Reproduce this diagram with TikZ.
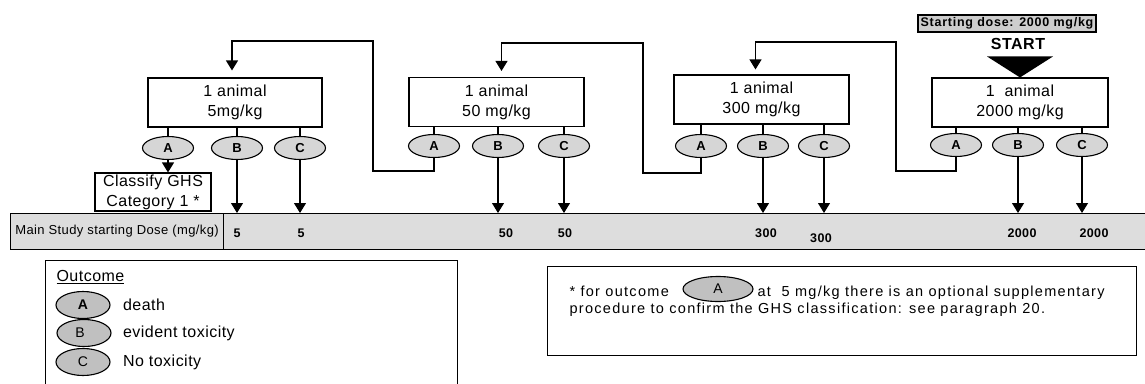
\documentclass[tikz,border=0pt]{standalone}
\usepackage{fontspec}
\setmainfont{Liberation Sans}
\newfontfamily\boxfont{Liberation Sans}[LetterSpace=3]
\newfontfamily\startfont{Liberation Sans}[LetterSpace=6]
\newfontfamily\notefont{Liberation Sans}[LetterSpace=9]
\usetikzlibrary{positioning,shapes.geometric,arrows.meta}
\definecolor{barfill}{RGB}{221,221,221}
\definecolor{ellfill}{RGB}{214,214,214}
\definecolor{keyfill}{RGB}{192,192,192}

\begin{document}
\begin{tikzpicture}[x=1pt, y=-1pt, line width=1.1pt, align=center, font=\boxfont\fontsize{16}{20}\selectfont,
    box/.style={draw, shape=rectangle, minimum width=175pt, minimum height=49pt, inner sep=0pt},
    outc/.style={draw, shape=ellipse, fill=ellfill, minimum width=51pt, minimum height=23pt, inner sep=0pt, font=\bfseries\fontsize{13}{13}\selectfont},
    keyell/.style={draw, shape=ellipse, fill=keyfill, minimum width=54pt, minimum height=27pt, inner sep=0pt, font=\fontsize{14}{14}\selectfont},
    keytext/.style={inner sep=0pt, font=\boxfont\fontsize{16}{16}\selectfont},
    notetext/.style={inner sep=0pt, anchor=base west, font=\notefont\fontsize{14.5}{14.5}\selectfont},
    dose/.style={inner sep=0pt, font=\boxfont\bfseries\fontsize{12.5}{12.5}\selectfont},
    arr/.style={-{Triangle[width=12pt,length=10pt]}}]
    \useasboundingbox (0,0) rectangle (1145,383);

    \node (sdose) [draw, fill=keyfill!80, minimum width=178pt, minimum height=17pt, inner sep=0pt, font=\startfont\bfseries\fontsize{12.5}{12.5}\selectfont] at (1007,23.5) {Starting dose: 2000 mg/kg};
    \node (start) [font=\boxfont\bfseries\fontsize{16}{16}\selectfont] at (1018,44) {START};

    \node (box1) [box, minimum width=174pt] at (235,102.5) {1 animal\\5mg/kg};
    \node (box2) [box] at (496.5,102) {1 animal\\50 mg/kg};
    \node (box3) [box] at (761.5,99.5) {1 animal\\300 mg/kg};
    \node (box4) [box, minimum width=176pt] at (1020,102.5) {1\ \ animal\\2000 mg/kg};
    \fill ([xshift=-33pt, yshift=21pt]box4.north) -- ([xshift=33pt, yshift=21pt]box4.north) -- (box4.north) -- cycle;

    \node (a1) [outc] at (168,148) {A};
    \node (b1) [outc] at (237,148) {B};
    \node (c1) [outc] at (300,148) {C};
    \node (a2) [outc] at (434,146) {A};
    \node (b2) [outc] at (498,146) {B};
    \node (c2) [outc] at (564,146) {C};
    \node (a3) [outc] at (701,146) {A};
    \node (b3) [outc] at (763,146) {B};
    \node (c3) [outc] at (824,146) {C};
    \node (a4) [outc] at (956,145) {A};
    \node (b4) [outc] at (1018,145) {B};
    \node (c4) [outc] at (1082,145) {C};

    \node (ghs) [draw, minimum width=116pt, minimum height=38pt, inner sep=0pt] at (153,192) {Classify GHS\\Category 1 *};

    \node (barlbl) [draw, fill=barfill, anchor=north west, minimum width=213pt, minimum height=36pt, inner sep=0pt, font=\boxfont\fontsize{13}{13}\selectfont] at (10,213) {Main Study starting Dose (mg/kg)};
    \node (barrest) [draw, fill=barfill, anchor=north west, minimum width=930pt, minimum height=36pt, inner sep=0pt] at (223,213) {};

    \node (d1) [dose] at (237,233) {5};
    \node (d2) [dose] at (301,233) {5};
    \node (d3) [dose] at (506,233) {50};
    \node (d4) [dose] at (565,233) {50};
    \node (d5) [dose] at (766,233) {300};
    \node (d6) [dose] at (821,238) {300};
    \node (d7) [dose] at (1022,233) {2000};
    \node (d8) [dose] at (1094,233) {2000};

    \draw (box1.south -| a1) -- (a1.north);
    \draw (box1.south -| b1) -- (b1.north);
    \draw (box1.south -| c1) -- (c1.north);
    \draw (box2.south -| a2) -- (a2.north);
    \draw (box2.south -| b2) -- (b2.north);
    \draw (box2.south -| c2) -- (c2.north);
    \draw (box3.south -| a3) -- (a3.north);
    \draw (box3.south -| b3) -- (b3.north);
    \draw (box3.south -| c3) -- (c3.north);
    \draw (box4.south -| a4) -- (a4.north);
    \draw (box4.south -| b4) -- (b4.north);
    \draw (box4.south -| c4) -- (c4.north);

    \draw [arr] (a1.south) -- (a1.south |- ghs.north);
    \draw [arr] (b1.south) -- (b1.south |- barrest.north);
    \draw [arr] (c1.south) -- (c1.south |- barrest.north);
    \draw [arr] (b2.south) -- (b2.south |- barrest.north);
    \draw [arr] (c2.south) -- (c2.south |- barrest.north);
    \draw [arr] (b3.south) -- (b3.south |- barrest.north);
    \draw [arr] (c3.south) -- (c3.south |- barrest.north);
    \draw [arr] (b4.south) -- (b4.south |- barrest.north);
    \draw [arr] (c4.south) -- (c4.south |- barrest.north);

    \coordinate (k1) at (373,171);
    \coordinate (u1) at (373,41);
    \coordinate (k2) at (643,173);
    \coordinate (u2) at (643,43);
    \coordinate (k3) at (896,171);
    \coordinate (u3) at (896,42);
    \draw [arr, shorten >=7pt] (a2.south) |- (k1) -- (u1) -| ([xshift=-3pt]box1.north);
    \draw [arr, shorten >=6pt] (a3.south) |- (k2) -- (u2) -| ([xshift=5pt]box2.north);
    \draw [arr, shorten >=5pt] (a4.south) |- (k3) -- (u3) -| ([xshift=-6pt]box3.north);

    \node (legend) [draw, anchor=north west, minimum width=412pt, minimum height=130pt] at (45,260) {};
    \node (outcome) [keytext, anchor=west] at (56,277) {\underline{Outcome}};
    \node (kA) [keyell, font=\bfseries\fontsize{14}{14}\selectfont] at (83,305) {A};
    \node (kB) [keyell] at (84,333) {\raisebox{-5pt}{B}\hspace{8pt}};
    \node (kC) [keyell] at (83,362) {C};
    \node (death) [keytext, right=12pt of kA] {death};
    \node (evident) [keytext, right=11pt of kB] {evident toxicity};
    \node (none) [keytext, right=12pt of kC] {No toxicity};

    \node (notebox) [draw, anchor=north west, minimum width=589pt, minimum height=89pt] at (547,266) {};
    \node (note1) [notetext] at (569,296) {* for outcome};
    \node (noteA) [keyell, minimum width=70pt, minimum height=25pt] at (718,289) {A};
    \node (note2) [notetext] at (757,296) {at\ \ 5 mg/kg there is an optional supplementary};
    \node (note3) [notetext] at (569,313) {procedure to confirm the GHS classification: see paragraph 20.};
\end{tikzpicture}
\end{document}
